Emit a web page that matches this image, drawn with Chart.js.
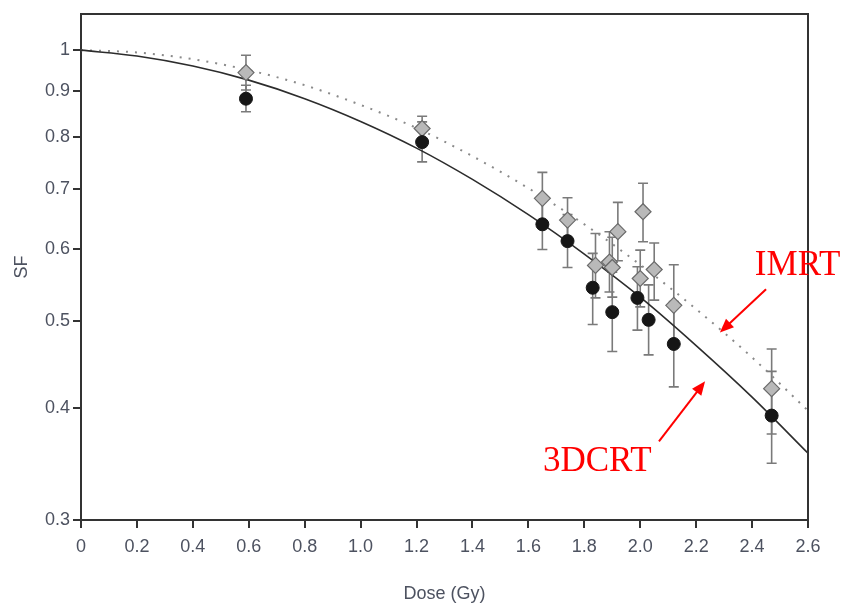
<!DOCTYPE html>
<html>
<head>
<meta charset="utf-8">
<script src="https://cdn.jsdelivr.net/npm/chart.js@4/dist/chart.umd.min.js"></script>
<style>
  html, body { margin: 0; padding: 0; background: #fff; }
</style>
</head>
<body>
<canvas id="sfChart" width="849" height="605"></canvas>
<script>
// measured points (3DCRT = black circles, IMRT = grey diamonds)
const doseCRT = [0.59, 1.22, 1.65, 1.74, 1.83, 1.90, 1.99, 2.03, 2.12, 2.47];
const sfCRT = [0.883, 0.790, 0.640, 0.613, 0.544, 0.511, 0.530, 0.501, 0.471, 0.392];
const sfCRTLow = [0.854, 0.751, 0.600, 0.573, 0.495, 0.462, 0.488, 0.458, 0.422, 0.347];
const sfCRTHigh = [0.914, 0.832, 0.682, 0.656, 0.594, 0.566, 0.574, 0.548, 0.525, 0.439];

const doseIMRT = [0.59, 1.22, 1.65, 1.74, 1.84, 1.89, 1.90, 1.92, 2.00, 2.01, 2.05, 2.12, 2.47];
const sfIMRT = [0.944, 0.818, 0.684, 0.647, 0.576, 0.581, 0.573, 0.628, 0.557, 0.661, 0.570, 0.520, 0.420];
const sfIMRTLow = [0.903, 0.793, 0.640, 0.611, 0.530, 0.538, 0.531, 0.583, 0.518, 0.612, 0.527, 0.469, 0.374];
const sfIMRTHigh = [0.987, 0.844, 0.731, 0.685, 0.625, 0.628, 0.619, 0.677, 0.599, 0.711, 0.610, 0.577, 0.465];

// fitted curves
const fitDose = [0, 0.2, 0.4, 0.6, 0.8, 1.0, 1.2, 1.4, 1.6, 1.8, 2.0, 2.2, 2.4, 2.6];
const fitCRT = [1.000, 0.985, 0.960, 0.926, 0.883, 0.833, 0.778, 0.718, 0.656, 0.593, 0.531, 0.469, 0.411, 0.356];
const fitIMRT = [1.000, 0.994, 0.977, 0.950, 0.914, 0.869, 0.819, 0.762, 0.702, 0.640, 0.577, 0.515, 0.455, 0.397];

const yTicks = [0.3, 0.4, 0.5, 0.6, 0.7, 0.8, 0.9, 1];

// labels with arrows, in data units
const notes = [
  { text: 'IMRT', x: 2.41, y: 0.562, from: [2.45, 0.542], to: [2.285, 0.485] },
  { text: '3DCRT', x: 1.652, y: 0.340, from: [2.067, 0.367], to: [2.232, 0.428] }
];

const toPts = (xs, ys) => xs.map((x, i) => ({ x: x, y: ys[i] }));

const errorBars = {
  id: 'errorBars',
  beforeDatasetsDraw(chart) {
    const ctx = chart.ctx;
    const xs = chart.scales.x, ys = chart.scales.y;
    const sets = [[doseIMRT, sfIMRTLow, sfIMRTHigh], [doseCRT, sfCRTLow, sfCRTHigh]];
    ctx.save();
    ctx.strokeStyle = '#7a7a7a';
    ctx.lineWidth = 1.6;
    sets.forEach(([dx, lo, hi]) => {
      dx.forEach((d, i) => {
        const px = xs.getPixelForValue(d);
        const y1 = ys.getPixelForValue(lo[i]);
        const y2 = ys.getPixelForValue(hi[i]);
        ctx.beginPath();
        ctx.moveTo(px, y1); ctx.lineTo(px, y2);
        ctx.moveTo(px - 5, y1); ctx.lineTo(px + 5, y1);
        ctx.moveTo(px - 5, y2); ctx.lineTo(px + 5, y2);
        ctx.stroke();
      });
    });
    ctx.restore();
  }
};

const frameAndNotes = {
  id: 'frameAndNotes',
  afterDraw(chart) {
    const ctx = chart.ctx;
    const a = chart.chartArea;
    const xs = chart.scales.x, ys = chart.scales.y;
    ctx.save();
    ctx.strokeStyle = '#333';
    ctx.lineWidth = 2;
    ctx.beginPath();
    ctx.moveTo(a.left, a.top); ctx.lineTo(a.right, a.top); ctx.lineTo(a.right, a.bottom);
    ctx.stroke();

    ctx.fillStyle = '#ff0000';
    ctx.strokeStyle = '#ff0000';
    ctx.font = '35px "Liberation Serif", "Times New Roman", serif';
    ctx.textBaseline = 'alphabetic';
    notes.forEach(n => {
      ctx.fillText(n.text, xs.getPixelForValue(n.x), ys.getPixelForValue(n.y));
      const x0 = xs.getPixelForValue(n.from[0]), y0 = ys.getPixelForValue(n.from[1]);
      const x1 = xs.getPixelForValue(n.to[0]), y1 = ys.getPixelForValue(n.to[1]);
      const ang = Math.atan2(y1 - y0, x1 - x0);
      const head = 15;
      ctx.lineWidth = 2;
      ctx.beginPath();
      ctx.moveTo(x0, y0);
      ctx.lineTo(x1 - Math.cos(ang) * head * 0.8, y1 - Math.sin(ang) * head * 0.8);
      ctx.stroke();
      ctx.beginPath();
      ctx.moveTo(x1, y1);
      ctx.lineTo(x1 - head * Math.cos(ang - 0.4), y1 - head * Math.sin(ang - 0.4));
      ctx.lineTo(x1 - head * Math.cos(ang + 0.4), y1 - head * Math.sin(ang + 0.4));
      ctx.closePath();
      ctx.fill();
    });
    ctx.restore();
  }
};

const tickFont = { family: '"Liberation Sans", Arial, sans-serif', size: 18 };
const tickColor = '#4d5260';

new Chart(document.getElementById('sfChart').getContext('2d'), {
  type: 'scatter',
  data: {
    datasets: [
      {
        label: '3DCRT',
        data: toPts(doseCRT, sfCRT),
        pointStyle: 'circle',
        pointRadius: 6.5,
        backgroundColor: '#161616',
        borderColor: '#161616',
        borderWidth: 1
      },
      {
        label: 'IMRT',
        data: toPts(doseIMRT, sfIMRT),
        pointStyle: 'rectRot',
        pointRadius: 8,
        backgroundColor: '#b9b9b9',
        borderColor: '#6a6a6a',
        borderWidth: 1.2
      },
      {
        label: '3DCRT fit',
        type: 'line',
        data: toPts(fitDose, fitCRT),
        showLine: true,
        pointRadius: 0,
        borderColor: '#2c2c2c',
        borderWidth: 1.6,
        cubicInterpolationMode: 'monotone',
        fill: false
      },
      {
        label: 'IMRT fit',
        type: 'line',
        data: toPts(fitDose, fitIMRT),
        showLine: true,
        pointRadius: 0,
        borderColor: '#8a8a8a',
        borderWidth: 2,
        borderDash: [2, 7],
        cubicInterpolationMode: 'monotone',
        fill: false
      }
    ]
  },
  options: {
    responsive: false,
    animation: false,
    layout: { padding: { top: 14, right: 41, left: 0, bottom: 0 } },
    plugins: {
      legend: { display: false },
      tooltip: { enabled: false }
    },
    scales: {
      x: {
        type: 'linear',
        min: 0,
        max: 2.6,
        afterFit: s => { s.height = 85; },
        border: { display: true, color: '#333', width: 2 },
        grid: { drawOnChartArea: false, drawTicks: true, tickLength: 8, color: '#333', lineWidth: 2 },
        ticks: {
          stepSize: 0.2,
          color: tickColor,
          font: tickFont,
          padding: 8,
          maxRotation: 0,
          callback: v => v === 0 ? '0' : v.toFixed(1)
        },
        title: {
          display: true,
          text: 'Dose (Gy)',
          color: tickColor,
          font: tickFont,
          padding: { top: 0, bottom: 0 }
        }
      },
      y: {
        type: 'logarithmic',
        min: 0.3,
        max: 1.097,
        afterFit: s => { s.width = 81; },
        afterBuildTicks: s => { s.ticks = yTicks.map(v => ({ value: v })); },
        border: { display: true, color: '#333', width: 2 },
        grid: { drawOnChartArea: false, drawTicks: true, tickLength: 8, color: '#333', lineWidth: 2 },
        ticks: {
          color: tickColor,
          font: tickFont,
          padding: 3,
          callback: v => v === 1 ? '1' : Number(v).toFixed(1)
        },
        title: {
          display: true,
          text: 'SF',
          color: tickColor,
          font: tickFont,
          padding: { top: 11, bottom: 0 }
        }
      }
    }
  },
  plugins: [errorBars, frameAndNotes]
});
</script>
</body>
</html>
